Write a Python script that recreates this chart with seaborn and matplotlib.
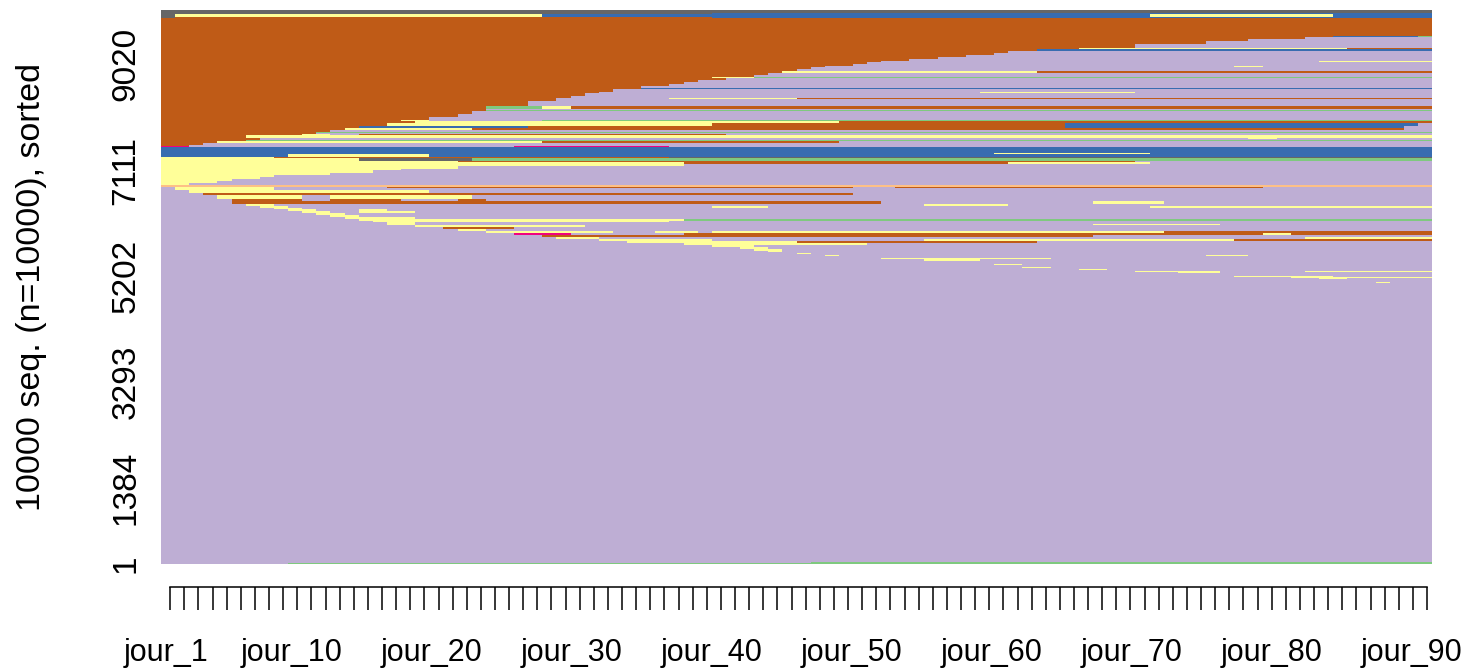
import numpy as np
import matplotlib
matplotlib.use("Agg")
import matplotlib.pyplot as plt
from matplotlib.colors import ListedColormap
import seaborn as sns

# --- data -----------------------------------------------------------------
n_days = 90
day_labels = [f"jour_{d}" for d in range(1, n_days + 1)]
labelled_days = [1, 10, 20, 30, 40, 50, 60, 70, 80, 90]

state_codes = ["G", "L", "P", "Y", "B", "M", "R", "K"]
state_colors = ["#7FC97F", "#BEAED4", "#FDC086", "#FFFF99",
                "#386CB0", "#F0027F", "#BF5B17", "#666666"]

seq_ticks = [1, 1384, 3293, 5202, 7111, 9020]

# Groups of identical sequences, from the top of the index plot downwards.
# A spell string lists "<state><first day>" for each change of state.
group_sizes = [
    60, 18, 42, 20,
    338, 18, 36, 36, 45, 81, 18, 27, 36, 36, 36, 36, 45, 18, 27, 45,
    18, 27, 36, 36, 36, 45, 18, 27, 36, 36, 36, 36, 27, 54, 18, 45,
    45, 18, 36, 90, 45, 27, 18, 45, 54, 63, 18, 36, 45, 36, 36, 36,
    18, 18, 27, 45, 18, 27, 18, 27, 36, 18,
    27,
    108, 18, 45,
    27, 45, 27, 36, 36, 45, 18, 54, 36, 36, 36, 36, 36, 36,
    36,
    27, 36, 54, 36, 72, 36, 45, 36, 36, 36, 36, 36, 36, 36, 27, 36,
    27, 36, 18, 36, 36, 36, 36, 36, 36, 36, 36, 36, 36, 36, 36, 36, 18,
    18, 18, 18, 18, 27, 18, 36, 63, 18, 27, 18, 18, 18, 18, 18, 18,
    54, 18, 18, 18, 54, 18,
    5040, 18, 18,
]
group_spells = [
    "K1", "K1 B40", "K1 Y2 B28 Y71 B84", "K1 R2 B40",
    "R1", "R1 B84 G90", "R1 L82", "R1 L78", "R1 L75", "R1 L70",
    "R1 Y66 R85", "R1 B63", "R1 L61", "R1 L60", "R1 L58", "R1 L56",
    "R1 L54", "R1 L52 Y83", "R1 L51", "R1 L50",
    "R1 L48 Y77 L79", "R1 L47", "R1 L46", "R1 Y45 R63", "R1 L44", "R1 L43",
    "R1 Y40 G43", "R1 L41", "R1 L39", "R1 L38", "R1 L37", "R1 L35",
    "R1 B35", "R1 L33", "R1 L32 Y59 L70", "R1 L31",
    "R1 L30", "R1 L29 Y37 R46", "R1 L29", "R1 L27", "R1 G24 Y28 R30",
    "R1 L24", "R1 G24", "R1 L23", "R1 L22", "R1 L20", "R1 Y18 L20 G28",
    "R1 Y19 R49", "R1 Y17 R40 B65 L90", "R1 B15 R27 B65 L89",
    "R1 Y14 R23 L89", "R1 L13",
    "R1 G12", "R1 L12", "R1 Y11 L13 R15 L41", "R1 Y7", "R1 L8 Y78 L80",
    "R1 L8", "R1 G7", "R1 Y5 R28 L49", "R1 L4", "R1 L3",
    "M1 L3 M26 L37",
    "B1", "B1 Y60 B71", "B1 Y10 B20",
    "Y1 R9 K37", "Y1 K15 G23", "Y1 R22 L70", "Y1 R38 Y61 L71", "Y1 L38",
    "Y1 L22", "Y1 L18", "Y1 L16", "Y1 L13", "Y1 L9", "Y1 L8", "Y1 L6",
    "Y1 L5", "Y1 L3",
    "P1",
    "L1 Y2 L9 R17 L50 R53 L79", "L1 Y2 L9", "L1 Y3 L20", "L1 R4 L50",
    "L1 Y5 L11 Y13 L23", "L1 R6 L11 R13 L18 R22 L24", "L1 R6 L52 Y67 L72",
    "L1 Y7 L9 Y55 L61", "L1 Y8 L10 Y40 L44 Y71", "L1 Y9 L11",
    "L1 Y10 L12 Y15 L17", "L1 Y11 L13 Y15 L19", "L1 Y12 L14", "L1 Y13 L15",
    "L1 Y14 L19", "L1 Y15 G38",
    "L1 Y16 L37", "L1 Y17 L19", "L1 Y17 L19 Y67 L76", "L1 Y19 L31",
    "L1 R21 L26",
    "L1 Y22 L24", "L1 Y24 L33 Y36 L39 Y40 R72", "L1 M26 L30 R38 Y79 R81",
    "L1 R28 L67", "L1 Y29 L32 Y82", "L1 Y32 L40 Y55 R77", "L1 Y34 R46 L63",
    "L1 Y38 L51", "L1 Y40 L43", "L1 Y42 L44", "L1 Y43 L45", "L1 Y44 L45",
    "L1", "L1 Y46 L47", "L1", "L1 Y48 L49 Y75 L78", "L1", "L1 Y52 L64",
    "L1 Y55 L59", "L1", "L1 Y60 L62", "L1", "L1 Y62 L64", "L1",
    "L1 Y66 L68", "L1", "L1 Y70 L76 Y82", "L1 Y73 L76",
    "L1", "L1 Y77 L84", "L1 Y81", "L1 Y83 L85", "L1", "L1 Y87 L88",
    "L1", "L1 G47", "L1 G10",
]

# --- sequence matrix (one row per sequence, one column per day) ------------
rows = []
for size, spells in zip(group_sizes, group_spells):
    seq = np.empty(n_days, dtype=int)
    parts = spells.split()
    for i, part in enumerate(parts):
        start = int(part[1:]) - 1
        end = int(parts[i + 1][1:]) - 1 if i + 1 < len(parts) else n_days
        seq[start:end] = state_codes.index(part[0])
    rows.append(np.tile(seq, (size, 1)))
mat = np.vstack(rows)
n_seq = mat.shape[0]

# --- plot -------------------------------------------------------------------
sns.set_style("white")
plt.rcParams["font.family"] = ["Liberation Sans", "DejaVu Sans"]

W, H = 1466, 671
fig = plt.figure(figsize=(W / 100, H / 100), dpi=100)
ax = fig.add_axes([161 / W, 107 / H, 1271 / W, 554 / H])

sns.heatmap(mat, cmap=ListedColormap(state_colors), vmin=-0.5, vmax=7.5,
            cbar=False, xticklabels=False, yticklabels=False, ax=ax,
            rasterized=True)

# x axis: a comb of day ticks on a detached baseline ...
ax.set_xticks(np.arange(n_days) + 0.65)
ax.set_xticklabels([])
ax.spines["bottom"].set_visible(True)
ax.spines["bottom"].set_position(("outward", 16.5))
ax.spines["bottom"].set_bounds(0.65, n_days - 0.35)
ax.spines["bottom"].set_linewidth(1.1)
ax.spines["bottom"].set_color("black")
ax.tick_params(axis="x", which="major", bottom=True, direction="out",
               length=16.5, width=1.1, color="black")

# ... and a label every ten days, placed on its own (tickless) locator
label_pos = [0.354 + (d - 1) * 0.991 for d in labelled_days]
ax.set_xticks(label_pos, minor=True)
ax.set_xticklabels([day_labels[d - 1] for d in labelled_days], minor=True)
ax.tick_params(axis="x", which="minor", bottom=True, length=0, pad=37,
               labelsize=22, labelcolor="black")

# y axis: sequence index, sequence 1 at the bottom
ax.set_yticks([n_seq - k + 0.5 for k in seq_ticks])
ax.set_yticklabels([str(k) for k in seq_ticks], rotation=90, va="center")
ax.tick_params(axis="y", left=False, length=0, pad=14, labelsize=24,
               labelcolor="black")
ax.set_ylabel(f"{n_seq} seq. (n={n_seq}), sorted", fontsize=24.5,
              color="black", va="center", ha="center")
ax.yaxis.set_label_coords((32 - 161) / 1271, 0.5)

fig.savefig("out.png", dpi=100)
